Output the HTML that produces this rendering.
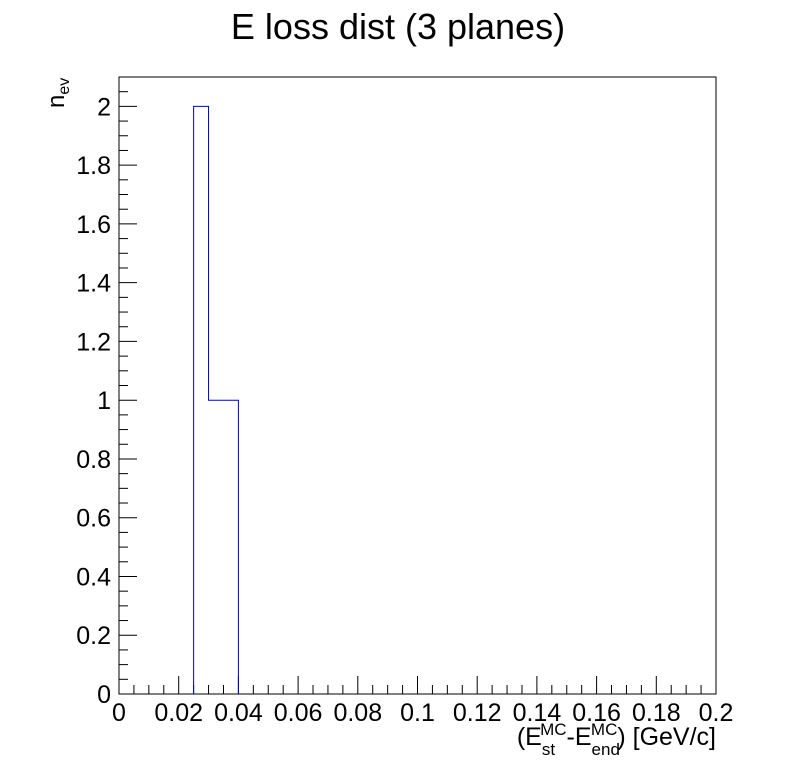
<!DOCTYPE html>
<html><head><meta charset="utf-8"><style>body{margin:0;background:#fff}svg{display:block}text{font-family:"Liberation Sans",sans-serif}</style></head>
<body>
<svg id="c" width="796" height="772" xmlns="http://www.w3.org/2000/svg">
<text x="398" y="39" font-size="36" text-anchor="middle">E loss dist (3 planes)</text>
<rect x="119" y="77" width="597" height="617" fill="none" stroke="#000" stroke-width="1"/>
<g id="ticks"></g>
<path id="hist" fill="none" stroke="#0000cc" stroke-width="1"/>
<text x="716" y="745" font-size="25" text-anchor="end">(E<tspan font-size="17" dy="10">st</tspan><tspan font-size="17" dx="-15" dy="-20">MC</tspan><tspan dy="10">-E</tspan><tspan font-size="17" dy="10">end</tspan><tspan font-size="17" dx="-29" dy="-20">MC</tspan><tspan dy="10">) [GeV/c]</tspan></text>
<g transform="translate(64,108) rotate(-90)"><text x="0" y="0" font-size="24">n<tspan font-size="16" dy="5">ev</tspan></text></g>
</svg>
<script>
const binEdges=[0.025,0.03,0.035,0.04];
const binCounts=[2,1,1];
const xTickLabels=["0","0.02","0.04","0.06","0.08","0.1","0.12","0.14","0.16","0.18","0.2"];
const yTickLabels=["0","0.2","0.4","0.6","0.8","1","1.2","1.4","1.6","1.8","2"];
const X0=119,X1=716,Y0=694,Y1=77,xmax=0.2,ymax=2.1;
const sx=v=>X0+v/xmax*(X1-X0), sy=v=>Y0-v/ymax*(Y0-Y1);
const NS="http://www.w3.org/2000/svg",g=document.getElementById('ticks');
function line(x1,y1,x2,y2,n){const l=document.createElementNS(NS,'line');l.setAttribute('x1',x1);l.setAttribute('y1',y1);l.setAttribute('x2',x2);l.setAttribute('y2',y2);l.setAttribute('stroke','#000');


g.appendChild(l);}
function txt(x,y,s,a,n){const t=document.createElementNS(NS,'text');t.setAttribute('x',x);t.setAttribute('y',y);t.setAttribute('font-size','25');t.setAttribute('text-anchor',a);t.textContent=s;


g.appendChild(t);}
for(let i=0;i<=40;i++){const x=sx(i*0.005);line(x,Y0,x,Y0-(i%4==0?18:9),'x-tick');}
xTickLabels.forEach(s=>txt(sx(parseFloat(s)),721,s,'middle','x-tick-label'));
for(let i=0;i<=42;i++){const y=sy(i*0.05);line(X0,y,X0+(i%4==0?18:9),y,'y-tick');}
yTickLabels.forEach(s=>txt(111,sy(parseFloat(s))+9,s,'end','y-tick-label'));
let d=`M${sx(binEdges[0])},${sy(0)}`;
binCounts.forEach((c,i)=>{d+=` L${sx(binEdges[i])},${sy(c)} L${sx(binEdges[i+1])},${sy(c)}`;});
d+=` L${sx(binEdges[binEdges.length-1])},${sy(0)}`;
document.getElementById('hist').setAttribute('d',d);
</script>
</body></html>
